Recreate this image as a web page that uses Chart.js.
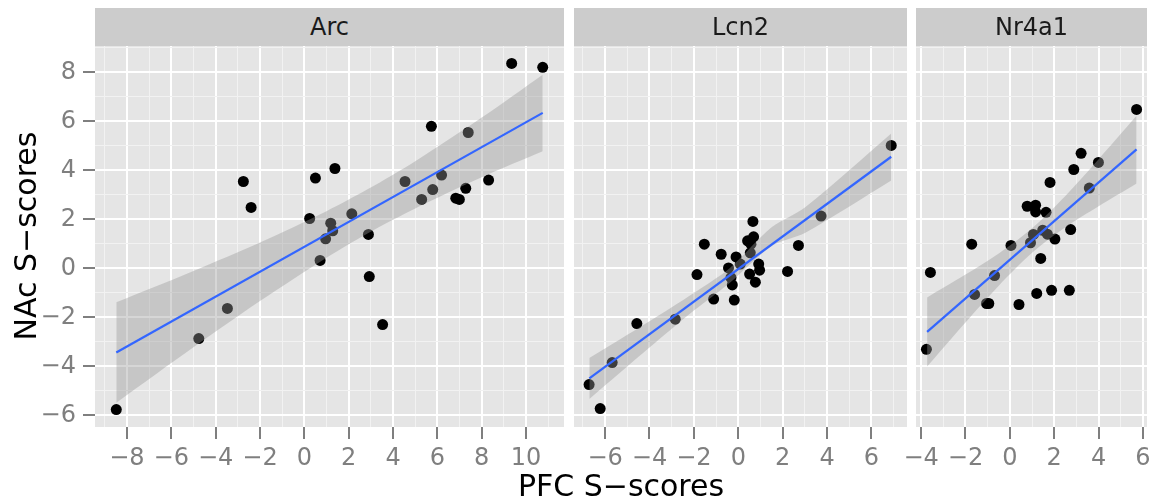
<!DOCTYPE html>
<html>
<head>
<meta charset="utf-8">
<script src="https://cdn.jsdelivr.net/npm/chart.js@4.4.1/dist/chart.umd.min.js"></script>
<style>
  body { margin: 0; background: #ffffff; }
  #wrap { position: relative; width: 1154px; height: 501px; font-family: "DejaVu Sans", sans-serif; }
  canvas { position: absolute; left: 0; top: 0; }
  .strip { position: absolute; top: 8px; height: 38px; line-height: 38px; background: #cccccc;
           color: #1a1a1a; font-size: 24px; text-align: center; }
  .title { position: absolute; color: #000000; font-size: 30px; white-space: nowrap; }
</style>
</head>
<body>
<div id="wrap">
  <canvas id="arcChart" width="1154" height="501"></canvas>
  <canvas id="lcn2Chart" width="1154" height="501"></canvas>
  <canvas id="nr4a1Chart" width="1154" height="501"></canvas>
  <div class="strip" style="left:95px;width:469px;">Arc</div>
  <div class="strip" style="left:574px;width:333px;">Lcn2</div>
  <div class="strip" style="left:916px;width:231px;">Nr4a1</div>
  <div class="title" style="left:95px;width:1052px;top:469px;height:34px;line-height:34px;text-align:center;">PFC S−scores</div>
  <div class="title" style="left:-84px;top:219px;width:220px;height:34px;line-height:34px;text-align:center;transform:rotate(-90deg);">NAc S−scores</div>
</div>
<script>
// facet names
const facets = ["Arc", "Lcn2", "Nr4a1"];

// points
const arcX = [9.35, 10.75, 5.73, 7.39, 1.38, 0.50, -2.75, -2.40, 4.54, 6.19, 5.79, 7.28, 8.31, 5.29, 6.83, 6.99, 0.24, 2.14, 1.19, 1.28, 0.96, 2.89, 0.71, 2.93, 3.53, -3.47, -4.76, -8.48];
const arcY = [8.37, 8.21, 5.80, 5.55, 4.08, 3.69, 3.55, 2.49, 3.55, 3.81, 3.22, 3.27, 3.61, 2.82, 2.87, 2.82, 2.04, 2.23, 1.85, 1.54, 1.21, 1.39, 0.33, -0.33, -2.29, -1.63, -2.86, -5.76];

const lcn2X = [6.89, 3.73, 2.71, 2.22, 0.66, 0.69, 0.42, 0.57, 0.54, 0.92, 0.96, 0.51, 0.77, -1.53, -0.77, -0.10, 0.09, -0.44, -0.33, -0.27, -1.86, -1.11, -0.18, -2.84, -4.57, -5.68, -6.72, -6.22];
const lcn2Y = [5.02, 2.14, 0.94, -0.12, 1.92, 1.29, 1.13, 0.99, 0.64, 0.18, -0.07, -0.23, -0.56, 0.99, 0.58, 0.47, 0.18, 0.02, -0.37, -0.67, -0.25, -1.25, -1.29, -2.07, -2.25, -3.84, -4.74, -5.72];

const nr4a1X = [5.71, 3.21, 3.99, 2.88, 3.58, 1.81, 0.78, 1.16, 1.16, 1.63, 2.74, 1.06, 1.48, 1.69, 2.03, 0.93, 0.05, -1.72, 1.39, -3.58, -0.69, -1.59, -1.05, -0.95, 0.41, 1.21, 1.88, 2.68, -3.76];
const nr4a1Y = [6.49, 4.70, 4.33, 4.04, 3.28, 3.51, 2.54, 2.58, 2.31, 2.29, 1.59, 1.39, 1.56, 1.40, 1.20, 1.05, 0.94, 0.99, 0.41, -0.16, -0.29, -1.06, -1.43, -1.43, -1.47, -1.02, -0.89, -0.89, -3.30];

// fitted lines (end points)
const arcFitX = [-8.48, 10.75];
const arcFitY = [-3.43, 6.35];
const lcn2FitX = [-6.71, 6.89];
const lcn2FitY = [-4.49, 4.56];
const nr4a1FitX = [-3.73, 5.71];
const nr4a1FitY = [-2.59, 4.86];

// confidence bands
const arcBandX = [-8.48, -5, -2, 1, 2.87, 5, 8, 10.75];
const arcBandUp = [-1.38, -0.10, 1.06, 2.34, 3.24, 4.38, 6.16, 7.91];
const arcBandLo = [-5.48, -3.22, -1.33, 0.44, 1.44, 2.45, 3.72, 4.78];
const lcn2BandX = [-6.71, -4, -2, -0.39, 1.5, 3, 6.89];
const lcn2BandUp = [-3.65, -2.15, -1.00, 0.01, 1.68, 2.49, 5.51];
const lcn2BandLo = [-5.33, -3.23, -1.72, -0.59, 0.92, 1.45, 3.59];
const nr4a1BandX = [-3.73, -2, -0.5, 1.04, 2.5, 4, 5.71];
const nr4a1BandUp = [-1.18, -0.25, 0.61, 1.67, 2.96, 4.46, 6.23];
const nr4a1BandLo = [-4.00, -2.20, -0.70, 0.67, 1.68, 2.54, 3.47];

// ticks (major labelled, minor only as grid)
const yTicks = [-6, -4, -2, 0, 2, 4, 6, 8];
const yMinor = [-5, -3, -1, 1, 3, 5, 7, 9];
const arcTicks = [-8, -6, -4, -2, 0, 2, 4, 6, 8, 10];
const arcMinor = [-9, -7, -5, -3, -1, 1, 3, 5, 7, 9, 11];
const lcn2Ticks = [-6, -4, -2, 0, 2, 4, 6];
const lcn2Minor = [-7, -5, -3, -1, 1, 3, 5, 7];
const nr4a1Ticks = [-4, -2, 0, 2, 4, 6];
const nr4a1Minor = [-3, -1, 1, 3, 5];

const yRange = [-6.47, 9.08];
const arcRange = [-9.44, 11.71];
const lcn2Range = [-7.40, 7.60];
const nr4a1Range = [-4.23, 6.18];

const tickFont = { family: "DejaVu Sans", size: 24 };

// grey panel behind the grid
const panelBg = {
  id: "panelBg",
  beforeDraw(chart) {
    const a = chart.chartArea;
    const c = chart.ctx;
    c.save();
    c.fillStyle = "#e5e5e5";
    c.fillRect(a.left, a.top, a.right - a.left, a.bottom - a.top);
    c.restore();
  }
};

function pts(xs, ys) {
  return xs.map((x, i) => ({ x: x, y: ys[i] }));
}

function fmt(v) {
  return v < 0 ? "\u2212" + Math.abs(v) : String(v);
}

function isMajor(ctx) {
  return ctx.tick && Math.abs(ctx.tick.value % 2) < 1e-9;
}

function gridOpts(withTicks) {
  return {
    color: ctx => isMajor(ctx) ? "#ffffff" : "#f2f2f2",
    lineWidth: ctx => isMajor(ctx) ? 2 : 1,
    drawTicks: withTicks,
    tickLength: 12,
    tickWidth: 2,
    tickColor: ctx => isMajor(ctx) ? "#7f7f7f" : "rgba(0,0,0,0)"
  };
}

function noPad(s) {
  s.paddingLeft = 0; s.paddingRight = 0; s.paddingTop = 0; s.paddingBottom = 0;
}

function makePanel(id, xs, ys, fitX, fitY, bandX, bandUp, bandLo, major, minor, range, padLeft, padRight, showY) {
  const ctx = document.getElementById(id).getContext("2d");
  return new Chart(ctx, {
    type: "scatter",
    plugins: [panelBg],
    data: {
      datasets: [
        { data: pts(fitX, fitY), showLine: true, borderColor: "#3366ff", borderWidth: 2.2,
          pointRadius: 0, fill: false, order: 0 },
        { data: pts(bandX, bandUp), showLine: true, borderColor: "rgba(0,0,0,0)", borderWidth: 1,
          pointRadius: 0, tension: 0.3, fill: "+1", backgroundColor: "rgba(153,153,153,0.4)", order: 1 },
        { data: pts(bandX, bandLo), showLine: true, borderColor: "rgba(0,0,0,0)", borderWidth: 1,
          pointRadius: 0, tension: 0.3, fill: false, order: 2 },
        { data: pts(xs, ys), backgroundColor: "#000000", borderWidth: 0, pointRadius: 5.5, order: 3 }
      ]
    },
    options: {
      responsive: false,
      animation: false,
      devicePixelRatio: 1,
      events: [],
      layout: { padding: { left: padLeft, right: padRight, top: 46, bottom: 0 } },
      plugins: { legend: { display: false }, tooltip: { enabled: false } },
      scales: {
        x: {
          type: "linear", min: range[0], max: range[1],
          afterBuildTicks: s => { s.ticks = major.concat(minor).sort((a, b) => a - b).map(v => ({ value: v })); },
          afterFit: s => { s.height = 74; noPad(s); },
          grid: gridOpts(true),
          border: { display: false },
          ticks: {
            callback: v => major.includes(v) ? fmt(v) : "",
            color: "#7f7f7f", font: tickFont, padding: 5,
            autoSkip: false, maxRotation: 0, minRotation: 0
          }
        },
        y: {
          type: "linear", min: yRange[0], max: yRange[1],
          afterBuildTicks: s => { s.ticks = yTicks.concat(yMinor).sort((a, b) => a - b).map(v => ({ value: v })); },
          afterFit: s => { s.width = showY ? 95 : 0; noPad(s); },
          grid: gridOpts(showY),
          border: { display: false },
          ticks: {
            display: showY,
            callback: v => yTicks.includes(v) ? fmt(v) : "",
            color: "#7f7f7f", font: tickFont, padding: 7, autoSkip: false
          }
        }
      }
    }
  });
}

makePanel("arcChart", arcX, arcY, arcFitX, arcFitY, arcBandX, arcBandUp, arcBandLo,
  arcTicks, arcMinor, arcRange, 0, 590, true);
makePanel("lcn2Chart", lcn2X, lcn2Y, lcn2FitX, lcn2FitY, lcn2BandX, lcn2BandUp, lcn2BandLo,
  lcn2Ticks, lcn2Minor, lcn2Range, 574, 247, false);
makePanel("nr4a1Chart", nr4a1X, nr4a1Y, nr4a1FitX, nr4a1FitY, nr4a1BandX, nr4a1BandUp, nr4a1BandLo,
  nr4a1Ticks, nr4a1Minor, nr4a1Range, 916, 7, false);
</script>
</body>
</html>
